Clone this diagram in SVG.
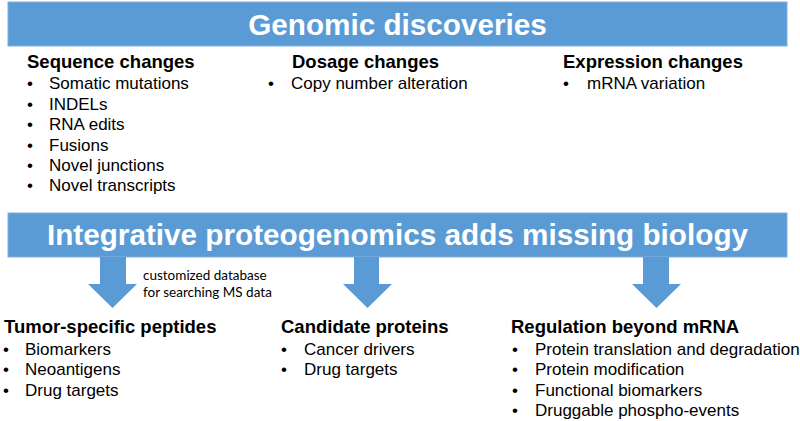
<svg xmlns="http://www.w3.org/2000/svg" width="800" height="421" viewBox="0 0 800 421">
<style>
.bar{fill:#5B9BD5;stroke:#7FB0DE;stroke-width:1}
.arrow{fill:#5B9BD5}
.title{font-family:"Liberation Sans",Arial,sans-serif;font-weight:bold;font-size:29.7px;fill:#FFFFFF;text-anchor:middle}
.head{font-family:"Liberation Sans",Arial,sans-serif;font-weight:bold;font-size:18.5px;fill:#000}
.item{font-family:"Liberation Sans",Arial,sans-serif;font-size:17px;fill:#000}
.note{font-family:Lato,"Open Sans",sans-serif;font-size:13.5px;fill:#000}
</style>
<rect width="800" height="421" fill="#FFFFFF"/>
<g id="genomic-discoveries">
<rect class="bar" x="8" y="2" width="779" height="44"/>
<text class="title" x="397.5" y="35">Genomic discoveries</text>
</g>
<g id="sequence-changes">
<text class="head" x="27" y="68">Sequence changes</text>
<text class="item"><tspan x="27" y="89">•</tspan><tspan x="49" y="89">Somatic mutations</tspan></text>
<text class="item"><tspan x="27" y="110">•</tspan><tspan x="49" y="110">INDELs</tspan></text>
<text class="item"><tspan x="27" y="130">•</tspan><tspan x="49" y="130">RNA edits</tspan></text>
<text class="item"><tspan x="27" y="151">•</tspan><tspan x="49" y="151">Fusions</tspan></text>
<text class="item"><tspan x="27" y="171">•</tspan><tspan x="49" y="171">Novel junctions</tspan></text>
<text class="item"><tspan x="27" y="191">•</tspan><tspan x="49" y="191">Novel transcripts</tspan></text>
</g>
<g id="dosage-changes">
<text class="head" x="292" y="68">Dosage changes</text>
<text class="item"><tspan x="268" y="89">•</tspan><tspan x="291" y="89">Copy number alteration</tspan></text>
</g>
<g id="expression-changes">
<text class="head" x="563" y="68">Expression changes</text>
<text class="item"><tspan x="563" y="89">•</tspan><tspan x="587" y="89">mRNA variation</tspan></text>
</g>
<g id="integrative-proteogenomics">
<rect class="bar" x="8" y="213" width="779" height="44"/>
<text class="title" x="397.5" y="245">Integrative proteogenomics adds missing biology</text>
</g>
<g id="connectors">
<polygon class="arrow" points="100,257 126,257 126,284 137,284 112.5,308 88,284 100,284"/>
<polygon class="arrow" points="354,257 379,257 379,284 392,284 367.5,308 343,284 354,284"/>
<polygon class="arrow" points="643,257 669,257 669,284 681,284 656.5,308 632,284 643,284"/>
<text class="note"><tspan x="143" y="280">customized database</tspan><tspan x="143" y="297">for searching MS data</tspan></text>
</g>
<g id="tumor-specific-peptides">
<text class="head" x="4" y="333">Tumor-specific peptides</text>
<text class="item"><tspan x="3" y="355">•</tspan><tspan x="25" y="355">Biomarkers</tspan></text>
<text class="item"><tspan x="3" y="375">•</tspan><tspan x="25" y="375">Neoantigens</tspan></text>
<text class="item"><tspan x="3" y="396">•</tspan><tspan x="25" y="396">Drug targets</tspan></text>
</g>
<g id="candidate-proteins">
<text class="head" x="281" y="333">Candidate proteins</text>
<text class="item"><tspan x="281" y="355">•</tspan><tspan x="304" y="355">Cancer drivers</tspan></text>
<text class="item"><tspan x="281" y="375">•</tspan><tspan x="304" y="375">Drug targets</tspan></text>
</g>
<g id="regulation-beyond-mrna">
<text class="head" x="511" y="333">Regulation beyond mRNA</text>
<text class="item"><tspan x="512" y="355">•</tspan><tspan x="535" y="355">Protein translation and degradation</tspan></text>
<text class="item"><tspan x="512" y="375">•</tspan><tspan x="535" y="375">Protein modification</tspan></text>
<text class="item"><tspan x="512" y="396">•</tspan><tspan x="535" y="396">Functional biomarkers</tspan></text>
<text class="item"><tspan x="512" y="416">•</tspan><tspan x="535" y="416">Druggable phospho-events</tspan></text>
</g>
</svg>
